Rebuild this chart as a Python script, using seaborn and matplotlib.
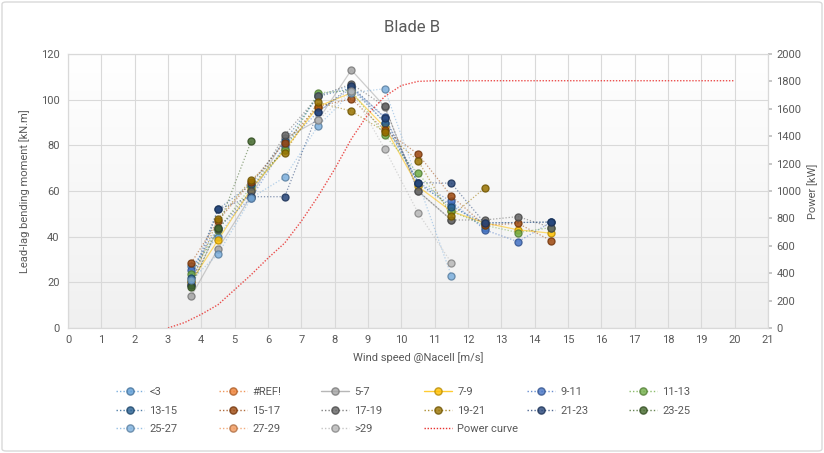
import numpy as np
import pandas as pd
import matplotlib
matplotlib.use("Agg")
import matplotlib.pyplot as plt
from matplotlib.lines import Line2D
from matplotlib.patches import FancyBboxPatch
import seaborn as sns

sns.set_theme(style="white")
plt.rcParams['font.family'] = ['Roboto', 'DejaVu Sans']

# ---------------- data ----------------
wind = [3.7, 4.5, 5.5, 6.5, 7.5, 8.5, 9.5, 10.5, 11.5, 12.5, 13.5, 14.5]
nan = np.nan

series_names = ["<3", "#REF!", "5-7", "7-9", "9-11", "11-13",
                "13-15", "15-17", "17-19", "19-21", "21-23", "23-25",
                "25-27", "27-29", ">29"]

s_lt3   = [27.0, 40.0, 60.0, 79.0, 102.0, 106.0, 90.0, 63.0, 54.0, 44.0, nan, nan]
s_ref   = [nan] * 12
s_5_7   = [14.0, 34.7, 58.0, 83.0, 91.0, 113.0, 97.0, 60.0, 47.3, nan, nan, nan]
s_7_9   = [20.5, 38.5, 61.0, 78.0, 97.0, 103.0, 88.0, 62.0, 51.1, 46.0, 43.0, 41.5]
s_9_11  = [25.4, 44.0, 57.0, 80.0, 94.6, 105.0, 92.6, 63.7, 55.5, 43.0, 37.8, 46.4]
s_11_13 = [23.6, 43.0, 62.0, 78.0, 103.0, 104.0, 84.5, 67.7, 51.1, 45.0, 41.8, 44.0]
s_13_15 = [22.0, 52.0, 63.0, 82.0, 101.4, 105.0, 90.0, 63.7, 53.1, 46.0, nan, 46.4]
s_15_17 = [28.6, 47.0, 64.0, 81.0, 97.0, 100.4, 86.7, 76.2, 57.8, 45.0, 45.8, 38.2]
s_17_19 = [19.0, 43.4, 60.0, 84.5, 101.4, 106.9, 97.2, 59.9, 47.3, 47.3, 48.8, 44.0]
s_19_21 = [20.0, 47.7, 65.0, 76.8, 98.8, 95.0, 86.0, 73.3, 49.0, 61.3, nan, nan]
s_21_23 = [19.0, 52.0, 57.5, 57.5, 94.6, 106.0, 92.0, 63.7, 63.4, 46.0, nan, 46.4]
s_23_25 = [18.0, 44.0, 82.0, nan, nan, nan, nan, nan, nan, nan, nan, nan]
s_25_27 = [21.0, 32.4, 57.0, 66.0, 88.5, 103.0, 104.8, nan, 22.9, nan, nan, nan]
s_27_29 = [nan] * 12
s_gt29  = [nan, nan, nan, nan, 91.0, 104.0, 78.5, 50.5, 28.6, nan, nan, nan]

series_values = [s_lt3, s_ref, s_5_7, s_7_9, s_9_11, s_11_13,
                 s_13_15, s_15_17, s_17_19, s_19_21, s_21_23, s_23_25,
                 s_25_27, s_27_29, s_gt29]

power_wind = [3, 3.5, 4, 4.5, 5, 5.5, 6, 6.5, 7, 7.5, 8, 8.5, 9, 9.5, 10, 10.5,
              11, 12, 13, 14, 15, 16, 17, 18, 19, 20]
power_kw = [0, 40, 100, 170, 280, 390, 510, 620, 780, 960, 1160, 1380, 1560,
            1690, 1770, 1800, 1805, 1805, 1805, 1805, 1805, 1805, 1805, 1805,
            1805, 1805]

# ---------------- styles ----------------
colors = {
    "<3": "#5B9BD5", "#REF!": "#ED7D31", "5-7": "#A5A5A5", "7-9": "#FFC000",
    "9-11": "#4472C4", "11-13": "#70AD47", "13-15": "#255E91", "15-17": "#9E480E",
    "17-19": "#636363", "19-21": "#997300", "21-23": "#264478", "23-25": "#43682B",
    "25-27": "#7CAFDD", "27-29": "#F1975A", ">29": "#B7B7B7",
}
dotted = (1, 1.5)
solid_names = {"5-7", "7-9"}

def darker(c, f=0.72):
    r, g, b = matplotlib.colors.to_rgb(c)
    return (r * f, g * f, b * f)

rows = []
for n, vals in zip(series_names, series_values):
    for w, v in zip(wind, vals):
        rows.append({"series": n, "wind": w, "moment": v})
df = pd.DataFrame(rows).dropna()
present = [n for n in series_names if n in set(df["series"])]

W, H = 824, 453
fig = plt.figure(figsize=(W / 100, H / 100), dpi=100)
ax = fig.add_axes([68 / W, 1 - 328 / H, 700 / W, 274 / H])

# subtle gradient background (white top, light grey bottom)
grad = np.linspace(0.0, 1.0, 256).reshape(-1, 1)
ax.imshow(grad, extent=[0, 1, 0, 1], transform=ax.transAxes, aspect="auto",
          cmap=matplotlib.colors.LinearSegmentedColormap.from_list("g", ["#ffffff", "#f0f0f0"]),
          vmin=0, vmax=1, zorder=0)

ax.set_xlim(0, 21)
ax.set_ylim(0, 120)
ax.set_xticks(range(0, 22))
ax.set_yticks(range(0, 121, 20))
ax.grid(True, color="#d9d9d9", lw=0.8, zorder=1)
ax.set_axisbelow(True)

for n in present:
    sub = df[df["series"] == n]
    sns.lineplot(data=sub, x="wind", y="moment", ax=ax, color=colors[n],
                 lw=0.9, alpha=0.55, sort=False, estimator=None,
                 legend=False, zorder=3)
    line = ax.lines[-1]
    if n not in solid_names:
        line.set_dashes(dotted)
    sns.scatterplot(data=sub, x="wind", y="moment", ax=ax, color=colors[n],
                    edgecolor=darker(colors[n]), linewidth=0.9, s=26, alpha=0.85,
                    legend=False, zorder=4)

ax2 = ax.twinx()
pdf = pd.DataFrame({"wind": power_wind, "power": power_kw})
sns.lineplot(data=pdf, x="wind", y="power", ax=ax2, color="#E8312F", lw=1.0,
             alpha=0.85, sort=False, estimator=None, legend=False)
ax2.lines[-1].set_dashes((1, 1.2))
ax2.set_ylim(0, 2000)
ax2.set_yticks(range(0, 2001, 200))

txt = "#595959"
for a in (ax, ax2):
    for s in a.spines.values():
        s.set_color("#d9d9d9")
        s.set_linewidth(0.8)
    a.tick_params(colors=txt, labelsize=8, length=0)
ax2.tick_params(axis="y", length=3, color="#bfbfbf", pad=3)
ax.tick_params(axis="y", pad=6)
ax.tick_params(axis="x", pad=5)

ax.set_xlabel("Wind speed @Nacell [m/s]", color=txt, fontsize=8, labelpad=5)
ax.set_ylabel("Lead-lag bending moment [kN.m]", color=txt, fontsize=8, labelpad=8)
ax2.set_ylabel("Power [kW]", color=txt, fontsize=8, labelpad=4)
fig.text(0.5, 1 - 28 / H, "Blade B", ha="center", va="center", color=txt, fontsize=12)

# legend: 6 uniform columns, 3 rows (row-major)
handles = []
labels = []
for n in series_names:
    ls = "-" if n in solid_names else (0, dotted)
    handles.append(Line2D([], [], color=colors[n], lw=1.0, ls=ls, marker="o",
                          markersize=5.2, markerfacecolor=colors[n],
                          markeredgecolor=darker(colors[n]), alpha=0.8))
    labels.append(n)
handles.append(Line2D([], [], color="#E8312F", lw=1.0, ls=(0, (1, 1.2))))
labels.append("Power curve")

col_x = [116, 219, 321, 424, 527, 629]
for c in range(6):
    idx = [r * 6 + c for r in range(3) if r * 6 + c < len(handles)]
    fig.legend([handles[i] for i in idx], [labels[i] for i in idx],
               loc="upper left", bbox_to_anchor=(col_x[c] / W, 1 - 387 / H),
               ncol=1, frameon=False, fontsize=8, labelcolor=txt,
               handlelength=2.5, handletextpad=0.5, labelspacing=0.78,
               borderpad=0, borderaxespad=0)

border = FancyBboxPatch((2 / W, 2 / H), 1 - 4 / W, 1 - 4 / H,
                        boxstyle="round,pad=0,rounding_size=0.005",
                        transform=fig.transFigure, fill=False,
                        edgecolor="#d9d9d9", lw=1.0)
fig.patches.append(border)

fig.savefig("out.png", dpi=100, facecolor="white")
